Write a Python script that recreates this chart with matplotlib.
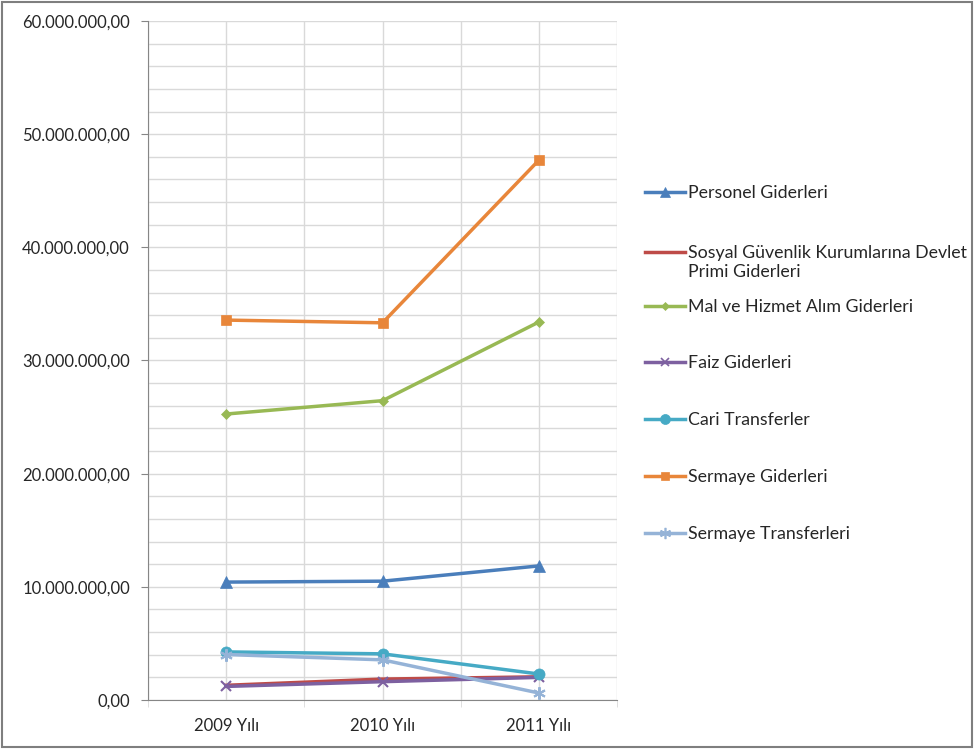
import matplotlib.pyplot as plt
from matplotlib.ticker import MultipleLocator, FuncFormatter
from matplotlib.patches import Rectangle
from matplotlib.lines import Line2D

plt.rcParams['font.family'] = ['Lato', 'DejaVu Sans']

years = ['2009 Yılı', '2010 Yılı', '2011 Yılı']
series_names = [
    'Personel Giderleri',
    'Sosyal Güvenlik Kurumlarına Devlet\nPrimi Giderleri',
    'Mal ve Hizmet Alım Giderleri',
    'Faiz Giderleri',
    'Cari Transferler',
    'Sermaye Giderleri',
    'Sermaye Transferleri',
]
personel = [10.42e6, 10.50e6, 11.85e6]
sosyal = [1.30e6, 1.85e6, 2.05e6]
mal_hizmet = [25.27e6, 26.45e6, 33.40e6]
faiz = [1.20e6, 1.62e6, 2.00e6]
cari = [4.25e6, 4.08e6, 2.30e6]
sermaye_gid = [33.57e6, 33.33e6, 47.70e6]
sermaye_tr = [4.02e6, 3.55e6, 0.62e6]

values = [personel, sosyal, mal_hizmet, faiz, cari, sermaye_gid, sermaye_tr]
colors = ['#4A7EBB', '#BE4B48', '#98B954', '#7D60A0', '#46AAC5', '#E8863A', '#95B3D7']
markers = ['^', None, 'D', 'x', 'o', 's', (6, 2, 0)]
msizes = [8, 0, 5, 7, 8, 7, 9]

W, H = 974, 749
fig = plt.figure(figsize=(W / 100, H / 100), dpi=100)
ax = fig.add_axes([0.152, 0.0654, 0.4815, 0.9066])

xpos = [1, 3, 5]
for name, vals, c, m, ms in zip(series_names, values, colors, markers, msizes):
    ax.plot(xpos, vals, color=c, lw=2.5, marker=m, markersize=ms,
            markeredgewidth=1.5 if m in ('x', (6, 2, 0)) else 0.5, markeredgecolor=c,
            label=name, zorder=3)

ax.set_xlim(0, 6)
ax.set_ylim(0, 60e6)
ax.set_xticks(xpos)
ax.set_xticklabels(years)
ax.set_xticks(range(0, 7), minor=True)
ax.yaxis.set_major_locator(MultipleLocator(10e6))
ax.yaxis.set_minor_locator(MultipleLocator(2e6))


def tr_fmt(v, pos):
    s = f'{v:,.2f}'
    return s.replace(',', 'X').replace('.', ',').replace('X', '.')


ax.yaxis.set_major_formatter(FuncFormatter(tr_fmt))
ax.grid(True, which='both', color='#D9D9D9', lw=1)
ax.set_axisbelow(True)
for side in ['top', 'right']:
    ax.spines[side].set_visible(False)
for side in ['left', 'bottom']:
    ax.spines[side].set_color('#868686')
ax.tick_params(axis='y', which='major', length=5, color='#868686', labelsize=12,
               labelcolor='#262626', pad=8)
ax.tick_params(axis='y', which='minor', length=0)
ax.tick_params(axis='x', which='major', length=0, labelsize=12,
               labelcolor='#262626', pad=13)
ax.tick_params(axis='x', which='minor', length=5, color='#D9D9D9')

# legend laid out like Excel: equally spaced entries on the right
leg_y = [192, 252, 306, 362, 419, 476, 533]
for name, c, m, ms, y in zip(series_names, colors, markers, msizes, leg_y):
    fy = 1 - y / H
    fig.add_artist(Line2D([645 / W, 685 / W], [fy, fy], transform=fig.transFigure,
                          color=c, lw=2.5))
    if m is not None:
        fig.add_artist(Line2D([665 / W], [fy], transform=fig.transFigure, color=c,
                              marker=m, markersize=ms * 0.9, markeredgecolor=c,
                              markeredgewidth=1.2 if m in ('x', (6, 2, 0)) else 0.5))
    for i, line in enumerate(name.split('\n')):
        fig.text(688 / W, 1 - (y + 1 + i * 19) / H, line, fontsize=12.8,
                 color='#262626', va='center', ha='left')

fig.patches.append(Rectangle((0.002, 0.003), 0.996, 0.994, transform=fig.transFigure,
                             fill=False, edgecolor='#7F7F7F', lw=1.5))

fig.savefig('out.png', dpi=100)
